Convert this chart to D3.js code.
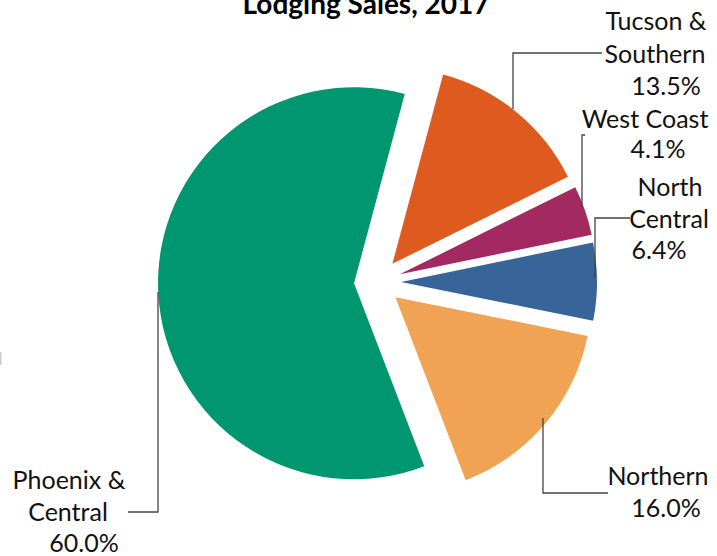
<!DOCTYPE html>
<html>
<head>
<meta charset="utf-8">
<script src="https://cdn.jsdelivr.net/npm/d3@7"></script>
<style>
body{margin:0;background:#fff;}
#canvas{width:717px;height:556px;}
text{font-family:Lato,"Open Sans",sans-serif;fill:#111;}
</style>
</head>
<body>
<div id="canvas"></div>
<script>
// data
var regions = ['Tucson & Southern','West Coast','North Central','Northern','Phoenix & Central'];
var shares = [13.5,4.1,6.4,16.0,60.0];
var colors = ['#de5a1f','#a32a60','#386599','#f0a453','#009670'];
// label lines, last line is the percent
var labelLines = [['Tucson &','Southern'],['West Coast'],['North','Central'],['Northern'],['Phoenix &','Central']];

var width = 717, height = 556;
var cx = 377.5, cy = 282, r = 196, explode = 23.5;

// label layout: centre x of each line, first baseline, line step
var labelPos = [
    {xs:[656,655,666], y:30, dy:32.5},
    {xs:[645,658], y:128, dy:30},
    {xs:[670,669,659], y:196, dy:31.5},
    {xs:[658,666], y:485, dy:32},
    {xs:[69,68,84], y:489, dy:31.5}
];
// leader lines
var leaders = [
    [[513,109],[513,53],[602,53]],
    [[582,207],[582,135],[585,135]],
    [[595,278],[595,218],[630,218]],
    [[543,418],[543,493],[608,493]],
    [[158,292],[158,512],[128,512]]
];

var svg = d3.select('#canvas')
    .append('svg')
    .attr('width',width)
    .attr('height',height);

var pie = d3.pie().sort(null).value(function(d){return d;})
    .startAngle(15*Math.PI/180)
    .endAngle(375*Math.PI/180);
var arc = d3.arc().innerRadius(0).outerRadius(r);

var arcs = pie(shares);

var plot = svg.append('g').attr('transform','translate('+cx+','+cy+')');
plot.selectAll('path.slice')
    .data(arcs)
    .enter()
    .append('path')
    .attr('class','slice')
    .attr('d',arc)
    .attr('transform',function(d){
        var m = (d.startAngle+d.endAngle)/2;
        return 'translate('+(Math.sin(m)*explode)+','+(-Math.cos(m)*explode)+')';
    })
    .style('fill',function(d,i){return colors[i];});

// leader lines
svg.selectAll('path.leader')
    .data(leaders)
    .enter()
    .append('path')
    .attr('class','leader')
    .attr('d',d3.line())
    .style('fill','none')
    .style('stroke','#444')
    .style('stroke-width','1.3px');

// labels
var fmt = d3.format('.1f');
regions.forEach(function(name,i){
    var lines = labelLines[i].concat([fmt(shares[i])+'%']);
    var p = labelPos[i];
    lines.forEach(function(t,j){
        svg.append('text')
            .attr('x',p.xs[j])
            .attr('y',p.y+j*p.dy)
            .attr('text-anchor','middle')
            .style('font-size','25px')
            .text(t);
    });
});

// title, clipped at top
svg.append('text')
    .attr('x',366)
    .attr('y',14)
    .attr('text-anchor','middle')
    .style('font-size','28px')
    .style('font-weight','bold')
    .style('fill','#000')
    .text('Lodging Sales, 2017');

// stray mark at left edge
svg.append('rect')
    .attr('x',0).attr('y',352)
    .attr('width',1.5).attr('height',13)
    .style('fill','#ccc');
</script>
</body>
</html>
